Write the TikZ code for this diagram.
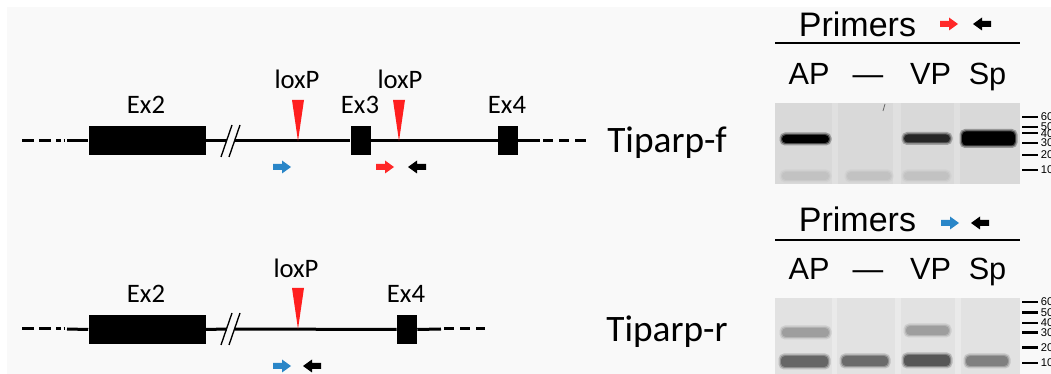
\documentclass[tikz,border=0pt]{standalone}
\usepackage{fontspec}
\setmainfont{Carlito}
\newfontfamily\arialf{Liberation Sans}
\definecolor{panelbg}{HTML}{F9F9F9}
\definecolor{loxred}{HTML}{FF1F1F}
\definecolor{pblue}{HTML}{2A86C8}
\definecolor{pred}{HTML}{FF2828}
\definecolor{geltop}{HTML}{D9D9D9}
\definecolor{gelbot}{HTML}{E2E2E2}
\tikzset{
  gene/.style={line width=2.25pt},
  exon/.style={fill=black, inner sep=0pt, minimum height=29*0.75pt},
  brk/.style={line width=1pt},
  lab/.style={font=\fontsize{20}{24}\selectfont, inner sep=0pt, anchor=base},
  tip/.style={font=\fontsize{28}{32}\selectfont, inner sep=0pt, anchor=base},
  prim/.style={font=\arialf\fontsize{25.5}{30}\selectfont, inner sep=0pt, anchor=base},
  lane/.style={font=\arialf\fontsize{23}{27}\selectfont, inner sep=0pt, anchor=base},
  mk/.style={font=\arialf\fontsize{8.4}{10}\selectfont, inner sep=0pt, anchor=west},
  tick/.style={line width=1.6pt},
  rule/.style={line width=1.5pt},
}
\newcommand\primerarr[4]{%
  \fill[#4, shift={(#1,#2)}, xscale=#3] (-9,-3) -- (0,-3) -- (0,-6.5) -- (9,0) -- (0,6.5) -- (0,3) -- (-9,3) -- cycle;}
\newcommand\gband[5]{%
  \fill[#5, opacity=0.3, rounded corners=4pt] (#1-2.5,#2-2.5) rectangle (#3+2.5,#4+2.5);
  \fill[#5, opacity=0.5, rounded corners=3pt] (#1-1,#2-1) rectangle (#3+1,#4+1);
  \fill[#5, rounded corners=3pt] (#1,#2) rectangle (#3,#4);}
\begin{document}
\begin{tikzpicture}[x=0.75pt, y=-0.75pt]
\clip (0,0) rectangle (1051,374);
\useasboundingbox (0,0) rectangle (1051,374);
\fill[white] (0,0) rectangle (1051,374);
\fill[panelbg] (7,7) rectangle (1051,374);

%%%%%%%% TOP GENE MAP %%%%%%%%
\node[exon, minimum width=117*0.75pt] (ex2t) at (147,141) {};
\node[exon, minimum width=20*0.75pt] (ex3t) at (360.5,141) {};
\node[exon, minimum width=20*0.75pt] (ex4t) at (508,141) {};
\coordinate (t0) at (67,141);
\coordinate (bk1t) at (226.8,141);
\coordinate (bk2t) at (234.8,141);
\coordinate (t9) at (540,141);
\draw[gene] (22,141) -- (34,141) (39,141) -- (51,141) (56,141) -- (61,141) (63.5,141) -- (64.5,141);
\draw[gene] (t0) -- (ex2t.west);
\draw[gene] (ex2t.east) -- (bk1t);
\draw[gene] (bk2t) -- (ex3t.west);
\draw[gene] (ex3t.east) -- (ex4t.west);
\draw[gene] (ex4t.east) -- (t9);
\draw[gene] (543,141) -- (553,141) (559,141) -- (569,141) (575,141) -- (586,141);
\draw[brk] (221,157) -- (232,125);
\draw[brk] (229,157) -- (240,125);
\fill[loxred] (292,100) -- (304,100) -- (298,141) -- cycle;
\fill[loxred] (393,100) -- (405,100) -- (399,141) -- cycle;
\node[lab] (lx1t) at (297,89) {loxP};
\node[lab] (lx2t) at (400,89) {loxP};
\node[lab] (ex2lt) at (146,114) {Ex2};
\node[lab] (ex3lt) at (360,114) {Ex3};
\node[lab] (ex4lt) at (507,114) {Ex4};
\primerarr{282}{167}{1}{pblue}
\primerarr{385}{167}{1}{pred}
\primerarr{417}{167}{-1}{black}
\node[tip] (tipf) at (667,153) {Tiparp-f};

%%%%%%%% BOTTOM GENE MAP %%%%%%%%
\node[exon, minimum width=117*0.75pt] (ex2b) at (147,329.5) {};
\node[exon, minimum width=20*0.75pt] (ex4b) at (407,329.5) {};
\coordinate (b0) at (67,329);
\coordinate (bk1b) at (226.8,329);
\coordinate (bk2b) at (234.8,329);
\coordinate (b9) at (441,329);
\draw[gene] (22,329) -- (34,329) (39,329) -- (51,329) (56,329) -- (61,329) (63.5,329) -- (64.5,329);
\draw[gene] (b0) -- (ex2b.west);
\draw[gene] (ex2b.east) -- (bk1b);
\draw[gene] (bk2b) -- (ex4b.west);
\draw[gene] (ex4b.east) -- (b9);
\draw[gene] (444,329) -- (454,329) (460,329) -- (470,329) (476,329) -- (485,329);
\draw[brk] (221,345) -- (232,313);
\draw[brk] (229,345) -- (240,313);
\fill[loxred] (292,288) -- (304,288) -- (298,329) -- cycle;
\node[lab] (lxb) at (296,278) {loxP};
\node[lab] (ex2lb) at (146,303) {Ex2};
\node[lab] (ex4lb) at (406,303) {Ex4};
\primerarr{282}{366}{1}{pblue}
\primerarr{312}{366}{-1}{black}
\node[tip] (tipr) at (667,342) {Tiparp-r};

%%%%%%%% TOP GEL %%%%%%%%
\node[prim] (primt) at (857.5,37) {Primers};
\primerarr{949}{24}{1}{pred}
\primerarr{982}{24}{-1}{black}
\draw[rule] (775,43.5) -- (1020,43.5);
\node[lane] (apt) at (809,85) {AP};
\node[lane] (negt) at (868,85) {—};
\node[lane] (vpt) at (930.5,85) {VP};
\node[lane] (spt) at (987.5,85) {Sp};
\fill[geltop] (775,103) rectangle (1020,184);
\fill[white, opacity=0.2] (832,103) rectangle (838,184);
\fill[white, opacity=0.2] (893,103) rectangle (901,184);
\fill[white, opacity=0.2] (954,103) rectangle (960,184);
\draw[black!60, line width=0.6pt] (883,111) -- (885,104);
\gband{782}{135}{829}{143}{black}
\gband{904}{134.5}{950}{142.5}{black!85}
\gband{962}{131.5}{1015}{145.5}{black}
\gband{782}{172}{829}{180}{black!24}
\gband{847}{172}{891}{180}{black!24}
\gband{904}{172}{949}{180}{black!24}
\foreach \yy/\lbl in {116.7/600,126.7/500,133.3/400,143/300,155/200,170/100}{
  \draw[tick] (1022,\yy) -- (1038,\yy);
  \node[mk] at (1040.5,\yy) {\lbl};
}

%%%%%%%% BOTTOM GEL %%%%%%%%
\node[prim] (primb) at (857.5,232) {Primers};
\primerarr{950}{223}{1}{pblue}
\primerarr{980}{223}{-1}{black}
\draw[rule] (775,240.5) -- (1020,240.5);
\node[lane] (apb) at (809,280) {AP};
\node[lane] (negb) at (868,280) {—};
\node[lane] (vpb) at (930.5,280) {VP};
\node[lane] (spb) at (987.5,280) {Sp};
\fill[gelbot] (775,298) rectangle (1020,374);
\fill[white, opacity=0.3] (832,298) rectangle (837,374);
\fill[white, opacity=0.3] (895,298) rectangle (901,374);
\fill[white, opacity=0.3] (955,298) rectangle (961,374);
\gband{782}{328}{829}{337}{black!38}
\gband{906}{326}{949}{335}{black!38}
\gband{781}{356}{828}{367}{black!60}
\gband{842}{356}{888}{366}{black!58}
\gband{904}{355}{950}{366}{black!66}
\gband{966}{356}{1008}{366}{black!50}
\foreach \yy/\lbl in {302/600,312.5/500,323/400,332.5/300,347.5/200,363/100}{
  \draw[tick] (1022,\yy) -- (1038,\yy);
  \node[mk] at (1040.5,\yy) {\lbl};
}
\end{tikzpicture}
\end{document}
